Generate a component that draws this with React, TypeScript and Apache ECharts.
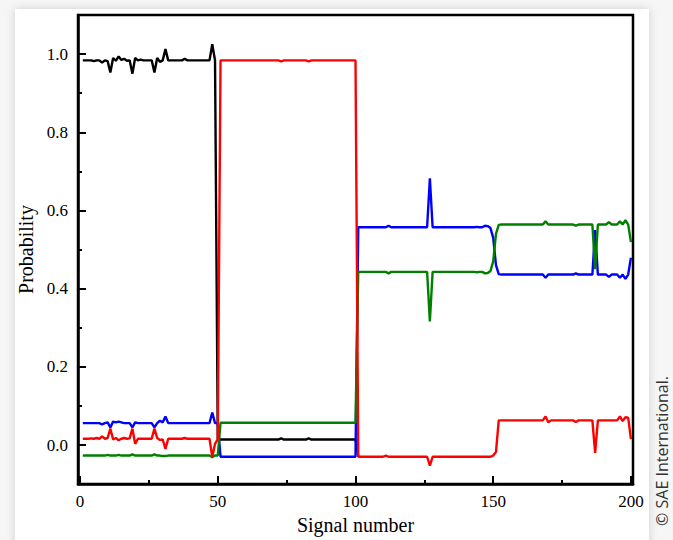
import React, { useEffect, useRef } from "react";
import * as echarts from "echarts";

// Signal numbers 1..200
const signals: number[] = Array.from({ length: 200 }, (_, i) => i + 1);

// Black series (signals 1..101; beyond that it lies under the red trace)
const blackValues: number[] = [
  0.984, 0.984, 0.984, 0.984, 0.982, 0.984, 0.984, 0.978, 0.984, 0.982,
  0.953, 0.990, 0.983, 0.994, 0.985, 0.988, 0.983, 0.984, 0.950, 0.990,
  0.984, 0.986, 0.984, 0.984, 0.984, 0.984, 0.953, 0.990, 0.980, 0.984,
  1.013, 0.984, 0.984, 0.984, 0.984, 0.984, 0.984, 0.988, 0.984, 0.984,
  0.984, 0.984, 0.984, 0.984, 0.984, 0.984, 0.984, 1.025, 0.984, 0.015,
  0.014, 0.014, 0.014, 0.014, 0.014, 0.014, 0.014, 0.014, 0.014, 0.014,
  0.014, 0.014, 0.014, 0.014, 0.014, 0.014, 0.014, 0.014, 0.014, 0.014,
  0.014, 0.014, 0.017, 0.014, 0.014, 0.014, 0.014, 0.014, 0.014, 0.014,
  0.014, 0.014, 0.017, 0.014, 0.014, 0.014, 0.014, 0.014, 0.014, 0.014,
  0.014, 0.014, 0.014, 0.014, 0.014, 0.014, 0.014, 0.014, 0.014, 0.014,
  -0.030,
];

const redValues: number[] = [
  0.016, 0.016, 0.016, 0.017, 0.016, 0.018, 0.016, 0.022, 0.016, 0.018,
  0.042, 0.014, 0.018, 0.012, 0.016, 0.018, 0.016, 0.017, 0.042, 0.003,
  0.016, 0.016, 0.016, 0.016, 0.016, 0.016, 0.042, 0.018, 0.013, 0.014,
  -0.010, 0.016, 0.016, 0.016, 0.016, 0.016, 0.016, 0.018, 0.016, 0.016,
  0.016, 0.016, 0.016, 0.016, 0.016, 0.016, 0.016, -0.031, 0.003, 0.015,
  0.984, 0.984, 0.984, 0.984, 0.984, 0.984, 0.984, 0.984, 0.984, 0.984,
  0.984, 0.984, 0.984, 0.984, 0.984, 0.984, 0.984, 0.984, 0.984, 0.984,
  0.984, 0.984, 0.981, 0.984, 0.984, 0.984, 0.984, 0.984, 0.984, 0.984,
  0.984, 0.984, 0.981, 0.984, 0.984, 0.984, 0.984, 0.984, 0.984, 0.984,
  0.984, 0.984, 0.984, 0.984, 0.984, 0.984, 0.984, 0.984, 0.984, 0.984,
  -0.030, -0.030, -0.030, -0.030, -0.030, -0.030, -0.030, -0.030, -0.030, -0.030,
  -0.027, -0.030, -0.030, -0.030, -0.030, -0.030, -0.030, -0.030, -0.030, -0.030,
  -0.030, -0.030, -0.030, -0.030, -0.030, -0.030, -0.053, -0.030, -0.030, -0.030,
  -0.030, -0.030, -0.030, -0.030, -0.030, -0.030, -0.030, -0.030, -0.030, -0.030,
  -0.030, -0.030, -0.030, -0.030, -0.030, -0.030, -0.030, -0.030, -0.030, -0.027,
  -0.018, 0.063, 0.063, 0.063, 0.063, 0.063, 0.063, 0.063, 0.063, 0.063,
  0.063, 0.063, 0.063, 0.063, 0.063, 0.063, 0.063, 0.063, 0.073, 0.058,
  0.063, 0.063, 0.063, 0.063, 0.063, 0.063, 0.063, 0.063, 0.063, 0.059,
  0.063, 0.063, 0.063, 0.063, 0.063, 0.063, -0.020, 0.063, 0.063, 0.063,
  0.063, 0.063, 0.063, 0.063, 0.063, 0.073, 0.061, 0.071, 0.070, 0.015,
];

const blueValues: number[] = [
  0.056, 0.056, 0.056, 0.056, 0.056, 0.056, 0.056, 0.053, 0.056, 0.058,
  0.045, 0.060, 0.058, 0.060, 0.058, 0.056, 0.056, 0.056, 0.045, 0.058,
  0.056, 0.056, 0.056, 0.056, 0.056, 0.056, 0.045, 0.056, 0.062, 0.058,
  0.073, 0.056, 0.056, 0.056, 0.056, 0.056, 0.056, 0.056, 0.056, 0.056,
  0.056, 0.056, 0.056, 0.056, 0.056, 0.056, 0.056, 0.083, 0.056, 0.056,
  -0.030, -0.030, -0.030, -0.030, -0.030, -0.030, -0.030, -0.030, -0.030, -0.030,
  -0.030, -0.030, -0.030, -0.030, -0.030, -0.030, -0.030, -0.030, -0.030, -0.030,
  -0.030, -0.030, -0.030, -0.030, -0.030, -0.030, -0.030, -0.030, -0.030, -0.030,
  -0.030, -0.030, -0.030, -0.030, -0.030, -0.030, -0.030, -0.030, -0.030, -0.030,
  -0.030, -0.030, -0.030, -0.030, -0.030, -0.030, -0.030, -0.030, -0.030, -0.030,
  0.557, 0.557, 0.557, 0.557, 0.557, 0.557, 0.557, 0.557, 0.557, 0.557,
  0.557, 0.561, 0.557, 0.557, 0.557, 0.557, 0.557, 0.557, 0.557, 0.557,
  0.557, 0.557, 0.557, 0.557, 0.557, 0.557, 0.682, 0.557, 0.557, 0.557,
  0.557, 0.557, 0.557, 0.557, 0.557, 0.557, 0.557, 0.557, 0.557, 0.557,
  0.557, 0.557, 0.557, 0.558, 0.557, 0.557, 0.561, 0.560, 0.555, 0.530,
  0.460, 0.437, 0.436, 0.436, 0.436, 0.436, 0.436, 0.436, 0.436, 0.436,
  0.436, 0.436, 0.436, 0.436, 0.436, 0.436, 0.436, 0.436, 0.428, 0.436,
  0.436, 0.436, 0.436, 0.436, 0.436, 0.436, 0.436, 0.436, 0.436, 0.439,
  0.436, 0.436, 0.436, 0.436, 0.436, 0.436, 0.550, 0.436, 0.436, 0.436,
  0.436, 0.430, 0.436, 0.436, 0.436, 0.428, 0.436, 0.425, 0.436, 0.479,
];

const greenValues: number[] = [
  -0.027, -0.027, -0.027, -0.027, -0.027, -0.027, -0.027, -0.027, -0.027, -0.025,
  -0.027, -0.027, -0.027, -0.025, -0.027, -0.027, -0.027, -0.027, -0.024, -0.027,
  -0.027, -0.027, -0.027, -0.027, -0.027, -0.027, -0.024, -0.027, -0.027, -0.028,
  -0.028, -0.027, -0.027, -0.027, -0.027, -0.027, -0.027, -0.027, -0.027, -0.027,
  -0.027, -0.027, -0.027, -0.027, -0.027, -0.027, -0.027, -0.031, -0.027, -0.027,
  0.057, 0.057, 0.057, 0.057, 0.057, 0.057, 0.057, 0.057, 0.057, 0.057,
  0.057, 0.057, 0.057, 0.057, 0.057, 0.057, 0.057, 0.057, 0.057, 0.057,
  0.057, 0.057, 0.057, 0.057, 0.057, 0.057, 0.057, 0.057, 0.057, 0.057,
  0.057, 0.057, 0.057, 0.057, 0.057, 0.057, 0.057, 0.057, 0.057, 0.057,
  0.057, 0.057, 0.057, 0.057, 0.057, 0.057, 0.057, 0.057, 0.057, 0.057,
  0.443, 0.443, 0.443, 0.443, 0.443, 0.443, 0.443, 0.443, 0.443, 0.443,
  0.443, 0.439, 0.443, 0.443, 0.443, 0.443, 0.443, 0.443, 0.443, 0.443,
  0.443, 0.443, 0.443, 0.443, 0.443, 0.443, 0.316, 0.443, 0.443, 0.443,
  0.443, 0.443, 0.443, 0.443, 0.443, 0.443, 0.443, 0.443, 0.443, 0.443,
  0.443, 0.443, 0.443, 0.442, 0.443, 0.443, 0.439, 0.440, 0.445, 0.470,
  0.540, 0.563, 0.564, 0.564, 0.564, 0.564, 0.564, 0.564, 0.564, 0.564,
  0.564, 0.564, 0.564, 0.564, 0.564, 0.564, 0.564, 0.564, 0.572, 0.564,
  0.564, 0.564, 0.564, 0.564, 0.564, 0.564, 0.564, 0.564, 0.564, 0.561,
  0.564, 0.564, 0.564, 0.564, 0.564, 0.564, 0.450, 0.564, 0.564, 0.564,
  0.564, 0.570, 0.564, 0.564, 0.564, 0.572, 0.564, 0.575, 0.564, 0.519,
];

const xMajorTicks: number[] = [0, 50, 100, 150, 200];
const xMinorTicks: number[] = [25, 75, 125, 175];
const yMajorTicks: number[] = [0, 0.2, 0.4, 0.6, 0.8, 1.0];
const yMinorTicks: number[] = [0.1, 0.3, 0.5, 0.7, 0.9];

const serifFont = '"Liberation Serif", "Times New Roman", serif';

function toPairs(vals: number[]) {
  return vals.map((v, i) => [signals[i], v]);
}

export default function App() {
  const ref = useRef<HTMLDivElement>(null);

  useEffect(() => {
    if (!ref.current) return;
    const chart = echarts.init(ref.current, null, { renderer: "svg" });
    const lineSeries = (name: string, vals: number[], color: string) => ({
      name,
      type: "line",
      data: toPairs(vals),
      showSymbol: false,
      symbol: "none",
      lineStyle: { color, width: 2.4 },
      itemStyle: { color },
      z: 2,
    });
    chart.setOption({
      animation: false,
      backgroundColor: "transparent",
      grid: {
        left: 78,
        right: 40,
        top: 15,
        bottom: 53,
        show: true,
        borderColor: "#000",
        borderWidth: 2.5,
        backgroundColor: "transparent",
      },
      xAxis: [
        {
          type: "value",
          min: -0.75,
          max: 200.75,
          position: "bottom",
          splitLine: { show: false },
          axisLine: { show: true, onZero: false, lineStyle: { color: "#000", width: 2.5 } },
          axisTick: { show: true, inside: true, length: 8, customValues: xMajorTicks, lineStyle: { color: "#000", width: 2 } },
          axisLabel: {
            customValues: xMajorTicks,
            margin: 9,
            fontSize: 17,
            color: "#000",
            fontFamily: serifFont,
            formatter: (v: number) => String(Math.round(v)),
          },
          name: "Signal number",
          nameLocation: "middle",
          nameGap: 24,
          nameTextStyle: { fontSize: 20, color: "#000", fontFamily: serifFont },
        },
        {
          type: "value",
          min: -0.75,
          max: 200.75,
          position: "bottom",
          splitLine: { show: false },
          axisLine: { show: false, onZero: false },
          axisTick: { show: true, inside: true, length: 4, customValues: xMinorTicks, lineStyle: { color: "#000", width: 2 } },
          axisLabel: { show: false },
        },
      ],
      yAxis: [
        {
          type: "value",
          min: -0.1,
          max: 1.1,
          position: "left",
          splitLine: { show: false },
          axisLine: { show: true, onZero: false, lineStyle: { color: "#000", width: 2.5 } },
          axisTick: { show: true, inside: true, length: 8, customValues: yMajorTicks, lineStyle: { color: "#000", width: 2 } },
          axisLabel: {
            customValues: yMajorTicks,
            margin: 10,
            fontSize: 17,
            color: "#000",
            fontFamily: serifFont,
            formatter: (v: number) => v.toFixed(1),
          },
          name: "Probability",
          nameLocation: "middle",
          nameGap: 35,
          nameTextStyle: { fontSize: 20, color: "#000", fontFamily: serifFont },
        },
        {
          type: "value",
          min: -0.1,
          max: 1.1,
          position: "left",
          splitLine: { show: false },
          axisLine: { show: false, onZero: false },
          axisTick: { show: true, inside: true, length: 4, customValues: yMinorTicks, lineStyle: { color: "#000", width: 2 } },
          axisLabel: { show: false },
        },
      ],
      series: [
        lineSeries("Black", blackValues, "#000000"),
        lineSeries("Blue", blueValues, "#0000ff"),
        lineSeries("Green", greenValues, "#008000"),
        lineSeries("Red", redValues, "#ff0000"),
      ],
      graphic: [
        {
          type: "text",
          x: 662,
          y: 451,
          rotation: Math.PI / 2,
          style: {
            text: "© SAE International.",
            font: '16px "Open Sans", "Noto Sans", sans-serif',
            fill: "#333",
            align: "center",
            verticalAlign: "middle",
          },
        },
      ],
    });
    return () => chart.dispose();
  }, []);

  return (
    <div
      style={{
        position: "fixed",
        left: 0,
        top: 0,
        width: 673,
        height: 540,
        background: "#f6f6f6",
        overflow: "hidden",
      }}
    >
      <div
        style={{
          position: "absolute",
          left: 15,
          top: 9,
          width: 634,
          height: 580,
          background: "#ffffff",
          boxShadow: "0 0 9px rgba(0,0,0,0.16)",
        }}
      />
      <div ref={ref} style={{ position: "absolute", left: 0, top: 0, width: 673, height: 540 }} />
    </div>
  );
}
